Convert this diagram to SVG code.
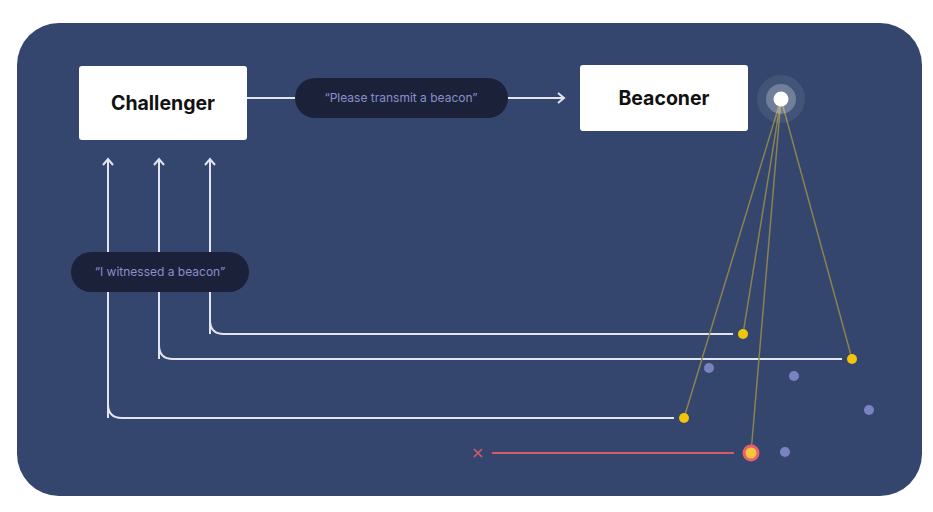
<svg xmlns="http://www.w3.org/2000/svg" width="933" height="512" viewBox="0 0 933 512">
<defs>
<style>
.node{fill:#ffffff}
.title{font-family:Inter,"Liberation Sans",sans-serif;font-weight:700;font-size:19.5px;fill:#111111;text-anchor:middle}
.pill{fill:#1b2139}
.pilltext{font-family:Inter,"Liberation Sans",sans-serif;font-size:12px;fill:#8a8fc9;text-anchor:middle}
.wire{fill:none;stroke:#e2e4ee;stroke-width:2}
.ray{stroke:#8f8650;stroke-width:1.5;opacity:0.95}
.ydot{fill:#f2c40a}
.pdot{fill:#7a82bf}
</style>
<marker id="chev" viewBox="0 0 12 12" refX="10" refY="6" markerWidth="12" markerHeight="12" markerUnits="userSpaceOnUse" orient="auto">
<path d="M4,1 L10,6 L4,11" fill="none" stroke="#e2e4ee" stroke-width="2"/>
</marker>
</defs>
<rect x="0" y="0" width="933" height="512" fill="#ffffff"/>
<rect x="17" y="23" width="905" height="473" rx="42" fill="#34466e"/>

<g id="connectors">
<line class="wire" x1="247" y1="98" x2="296" y2="98"/>
<line class="wire" x1="507" y1="98" x2="564" y2="98" marker-end="url(#chev)"/>
<path class="wire" d="M210,334 L210,159" marker-end="url(#chev)"/>
<path class="wire" d="M733,334 L224,334 Q210,334 210,320 L210,159"/>
<path class="wire" d="M159,359 L159,159" marker-end="url(#chev)"/>
<path class="wire" d="M842,359 L173,359 Q159,359 159,345 L159,159"/>
<path class="wire" d="M108,418 L108,159" marker-end="url(#chev)"/>
<path class="wire" d="M674,418 L122,418 Q108,418 108,404 L108,159"/>
<line x1="492" y1="453" x2="734" y2="453" stroke="#d65a68" stroke-width="2"/>
<path d="M474,449 L482,457 M482,449 L474,457" stroke="#d65a68" stroke-width="1.6"/>
<line class="ray" x1="781" y1="99" x2="743" y2="334"/>
<line class="ray" x1="781" y1="99" x2="852" y2="359"/>
<line class="ray" x1="781" y1="99" x2="684" y2="418"/>
<line class="ray" x1="781" y1="99" x2="751" y2="453"/>
</g>

<g id="challenger">
<rect class="node" x="79" y="66" width="168" height="74" rx="3"/>
<text class="title" x="163" y="110">Challenger</text>
</g>

<g id="beaconer">
<rect class="node" x="580" y="65" width="168" height="66" rx="3"/>
<text class="title" x="664" y="105">Beaconer</text>
</g>

<g id="request">
<rect class="pill" x="295" y="78" width="213" height="40" rx="20"/>
<text class="pilltext" x="401" y="102">“Please transmit a beacon”</text>
</g>

<g id="witness">
<rect class="pill" x="71" y="252" width="178" height="40" rx="20"/>
<text class="pilltext" x="160" y="276">“I witnessed a beacon”</text>
</g>

<g id="beacon">
<circle cx="781" cy="99" r="24" fill="#ffffff" opacity="0.08"/>
<circle cx="781" cy="99" r="15" fill="#ffffff" opacity="0.25"/>
<circle cx="781" cy="99" r="7.5" fill="#ffffff"/>
</g>

<g id="witnesses">
<circle class="ydot" cx="743" cy="334" r="5"/>
<circle class="ydot" cx="852" cy="359" r="5"/>
<circle class="ydot" cx="684" cy="418" r="5"/>
</g>

<g id="invalid">
<circle cx="751" cy="453" r="8.5" fill="#e8606c"/>
<circle cx="751" cy="453" r="5.5" fill="#f7c63a"/>
</g>

<g id="others">
<circle class="pdot" cx="709" cy="368" r="5"/>
<circle class="pdot" cx="794" cy="376" r="5"/>
<circle class="pdot" cx="869" cy="410" r="5"/>
<circle class="pdot" cx="785" cy="452" r="5"/>
</g>
</svg>
